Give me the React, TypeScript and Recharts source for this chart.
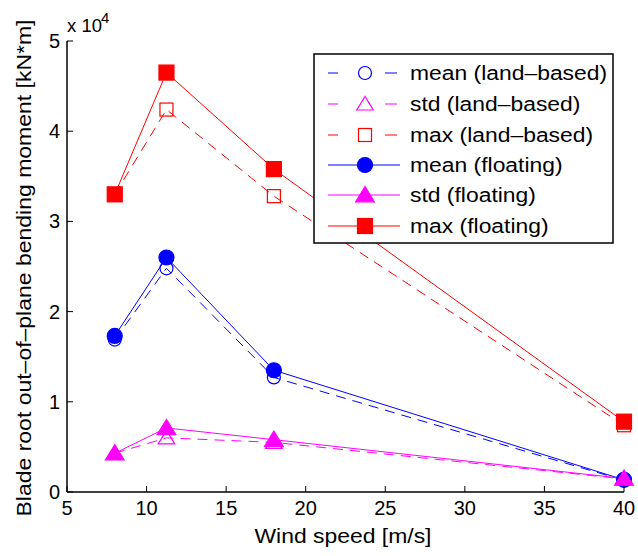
import React from 'react';
import { LineChart, Line, XAxis, YAxis } from 'recharts';

const windSpeed = [8, 11.25, 18, 40];
const meanLand = [16900, 24800, 12700, 1300];
const stdLand = [4300, 6000, 5500, 1450];
const maxLand = [33000, 42400, 32800, 7400];
const meanFloat = [17300, 26000, 13500, 1350];
const stdFloat = [4300, 7100, 5800, 1500];
const maxFloat = [33000, 46500, 35800, 7800];

const xTicks = [5, 10, 15, 20, 25, 30, 35, 40];
const yTicks = [0, 10000, 20000, 30000, 40000, 50000];

const seriesInfo = [
  { key: 'meanLand', label: 'mean (land\u2013based)', color: '#0000ff', shape: 'circle', filled: false, dashed: true },
  { key: 'stdLand', label: 'std (land\u2013based)', color: '#ff00ff', shape: 'triangle', filled: false, dashed: true },
  { key: 'maxLand', label: 'max (land\u2013based)', color: '#ff0000', shape: 'square', filled: false, dashed: true },
  { key: 'meanFloat', label: 'mean (floating)', color: '#0000ff', shape: 'circle', filled: true, dashed: false },
  { key: 'stdFloat', label: 'std (floating)', color: '#ff00ff', shape: 'triangle', filled: true, dashed: false },
  { key: 'maxFloat', label: 'max (floating)', color: '#ff0000', shape: 'square', filled: true, dashed: false },
];

const data = windSpeed.map((w, i) => ({
  wind: w,
  meanLand: meanLand[i],
  stdLand: stdLand[i],
  maxLand: maxLand[i],
  meanFloat: meanFloat[i],
  stdFloat: stdFloat[i],
  maxFloat: maxFloat[i],
}));

const FONT = '"Liberation Sans", Arial, Helvetica, sans-serif';
const yLabel = 'Blade root out\u2013of\u2013plane bending moment [kN*m]';
const xLabel = 'Wind speed [m/s]';

function Marker({ cx, cy, shape, filled, color }: any) {
  const fill = filled ? color : 'none';
  if (shape === 'circle') {
    const r = filled ? 7.5 : 6.5;
    return <circle cx={cx} cy={cy} r={r} fill={fill} stroke={color} strokeWidth={1.2} />;
  }
  if (shape === 'triangle') {
    const s = filled ? 8.5 : 7.5;
    const pts = `${cx},${cy - s} ${cx - s * 1.1},${cy + s * 0.8} ${cx + s * 1.1},${cy + s * 0.8}`;
    return <polygon points={pts} fill={fill} stroke={color} strokeWidth={1.2} />;
  }
  const h = filled ? 7.5 : 6.5;
  return <rect x={cx - h} y={cy - h} width={h * 2} height={h * 2} fill={fill} stroke={color} strokeWidth={1.2} />;
}

const makeDot = (s: any) => (props: any) => {
  if (props.cx == null || props.cy == null) return <g key={props.index} />;
  return (
    <g key={`${s.key}-${props.index}`}>
      <Marker cx={props.cx} cy={props.cy} shape={s.shape} filled={s.filled} color={s.color} />
    </g>
  );
};

const BottomTick = (props: any) => {
  const { x, y, payload } = props;
  return (
    <g>
      <line x1={x} y1={y} x2={x} y2={y - 6} stroke="#000" strokeWidth={1} />
      <text x={x} y={y + 23} textAnchor="middle" fontSize={20} fontFamily={FONT} fill="#000">
        {payload.value}
      </text>
    </g>
  );
};

const TopTick = (props: any) => {
  const { x, y } = props;
  return <line x1={x} y1={y} x2={x} y2={y + 6} stroke="#000" strokeWidth={1} />;
};

const LeftTick = (props: any) => {
  const { x, y, payload } = props;
  return (
    <g>
      <line x1={x} y1={y} x2={x + 6} y2={y} stroke="#000" strokeWidth={1} />
      <text x={x - 7} y={y + 7} textAnchor="end" fontSize={20} fontFamily={FONT} fill="#000">
        {payload.value / 10000}
      </text>
    </g>
  );
};

const RightTick = (props: any) => {
  const { x, y } = props;
  return <line x1={x} y1={y} x2={x - 6} y2={y} stroke="#000" strokeWidth={1} />;
};

function LegendBox() {
  const rowY = [73, 104, 135, 165, 195, 226];
  return (
    <svg width={302} height={192} style={{ position: 'absolute', left: 313, top: 53 }}>
      <rect x={1} y={1} width={299} height={189} fill="#fff" stroke="#000" strokeWidth={1.5} />
      {seriesInfo.map((s, i) => {
        const y = rowY[i] - 53;
        return (
          <g key={s.key}>
            {s.dashed ? (
              <g>
                <line x1={15} y1={y} x2={25} y2={y} stroke={s.color} strokeWidth={1} />
                <line x1={72} y1={y} x2={84} y2={y} stroke={s.color} strokeWidth={1} />
              </g>
            ) : (
              <line x1={15} y1={y} x2={87} y2={y} stroke={s.color} strokeWidth={1} />
            )}
            <Marker cx={52} cy={y} shape={s.shape} filled={s.filled} color={s.color} />
            <text
              x={0}
              y={0}
              transform={`translate(97,${y + 7}) scale(1.09,1)`}
              fontSize={21}
              fontFamily={FONT}
              fill="#000"
            >
              {s.label}
            </text>
          </g>
        );
      })}
    </svg>
  );
}

export default function App() {
  return (
    <div style={{ position: 'absolute', left: 0, top: 0, width: 638, height: 556, background: '#fff' }}>
      <LineChart width={638} height={556} data={data} margin={{ top: 41, right: 14, bottom: 0, left: 0 }}>
        <XAxis
          xAxisId="bottom"
          dataKey="wind"
          type="number"
          domain={[5, 40]}
          ticks={xTicks}
          orientation="bottom"
          height={64}
          tickSize={0}
          tickMargin={0}
          tickLine={false}
          axisLine={{ stroke: '#000', strokeWidth: 1.5 }}
          tick={<BottomTick />}
          interval={0}
        />
        <XAxis
          xAxisId="top"
          dataKey="wind"
          type="number"
          domain={[5, 40]}
          ticks={xTicks}
          orientation="top"
          height={0}
          tickSize={0}
          tickMargin={0}
          tickLine={false}
          axisLine={{ stroke: '#000', strokeWidth: 1.5 }}
          tick={<TopTick />}
          interval={0}
        />
        <YAxis
          yAxisId="left"
          type="number"
          domain={[0, 50000]}
          ticks={yTicks}
          orientation="left"
          width={67}
          tickSize={0}
          tickMargin={0}
          tickLine={false}
          axisLine={{ stroke: '#000', strokeWidth: 1.5 }}
          tick={<LeftTick />}
          interval={0}
        />
        <YAxis
          yAxisId="right"
          type="number"
          domain={[0, 50000]}
          ticks={yTicks}
          orientation="right"
          width={0}
          tickSize={0}
          tickMargin={0}
          tickLine={false}
          axisLine={{ stroke: '#000', strokeWidth: 1.5 }}
          tick={<RightTick />}
          interval={0}
        />
        {seriesInfo.map((s) => (
          <Line
            key={s.key}
            xAxisId="bottom"
            yAxisId="left"
            dataKey={s.key}
            type="linear"
            stroke={s.color}
            strokeWidth={1}
            strokeDasharray={s.dashed ? '10 7' : undefined}
            dot={makeDot(s)}
            activeDot={false}
            isAnimationActive={false}
          />
        ))}
      </LineChart>
      <svg width={638} height={556} style={{ position: 'absolute', left: 0, top: 0, pointerEvents: 'none' }}>
        <text x={67} y={32} fontSize={18.5} fontFamily={FONT} fill="#000">
          x 10
        </text>
        <text x={101} y={23} fontSize={15} fontFamily={FONT} fill="#000">
          4
        </text>
        <text
          x={343}
          y={543}
          textAnchor="middle"
          fontSize={20}
          fontFamily={FONT}
          fill="#000"
          textLength={177}
          lengthAdjust="spacingAndGlyphs"
        >
          {xLabel}
        </text>
        <text
          x={0}
          y={0}
          transform="translate(31,268) rotate(-90)"
          textAnchor="middle"
          fontSize={20}
          fontFamily={FONT}
          fill="#000"
          textLength={497}
          lengthAdjust="spacingAndGlyphs"
        >
          {yLabel}
        </text>
      </svg>
      <LegendBox />
    </div>
  );
}
